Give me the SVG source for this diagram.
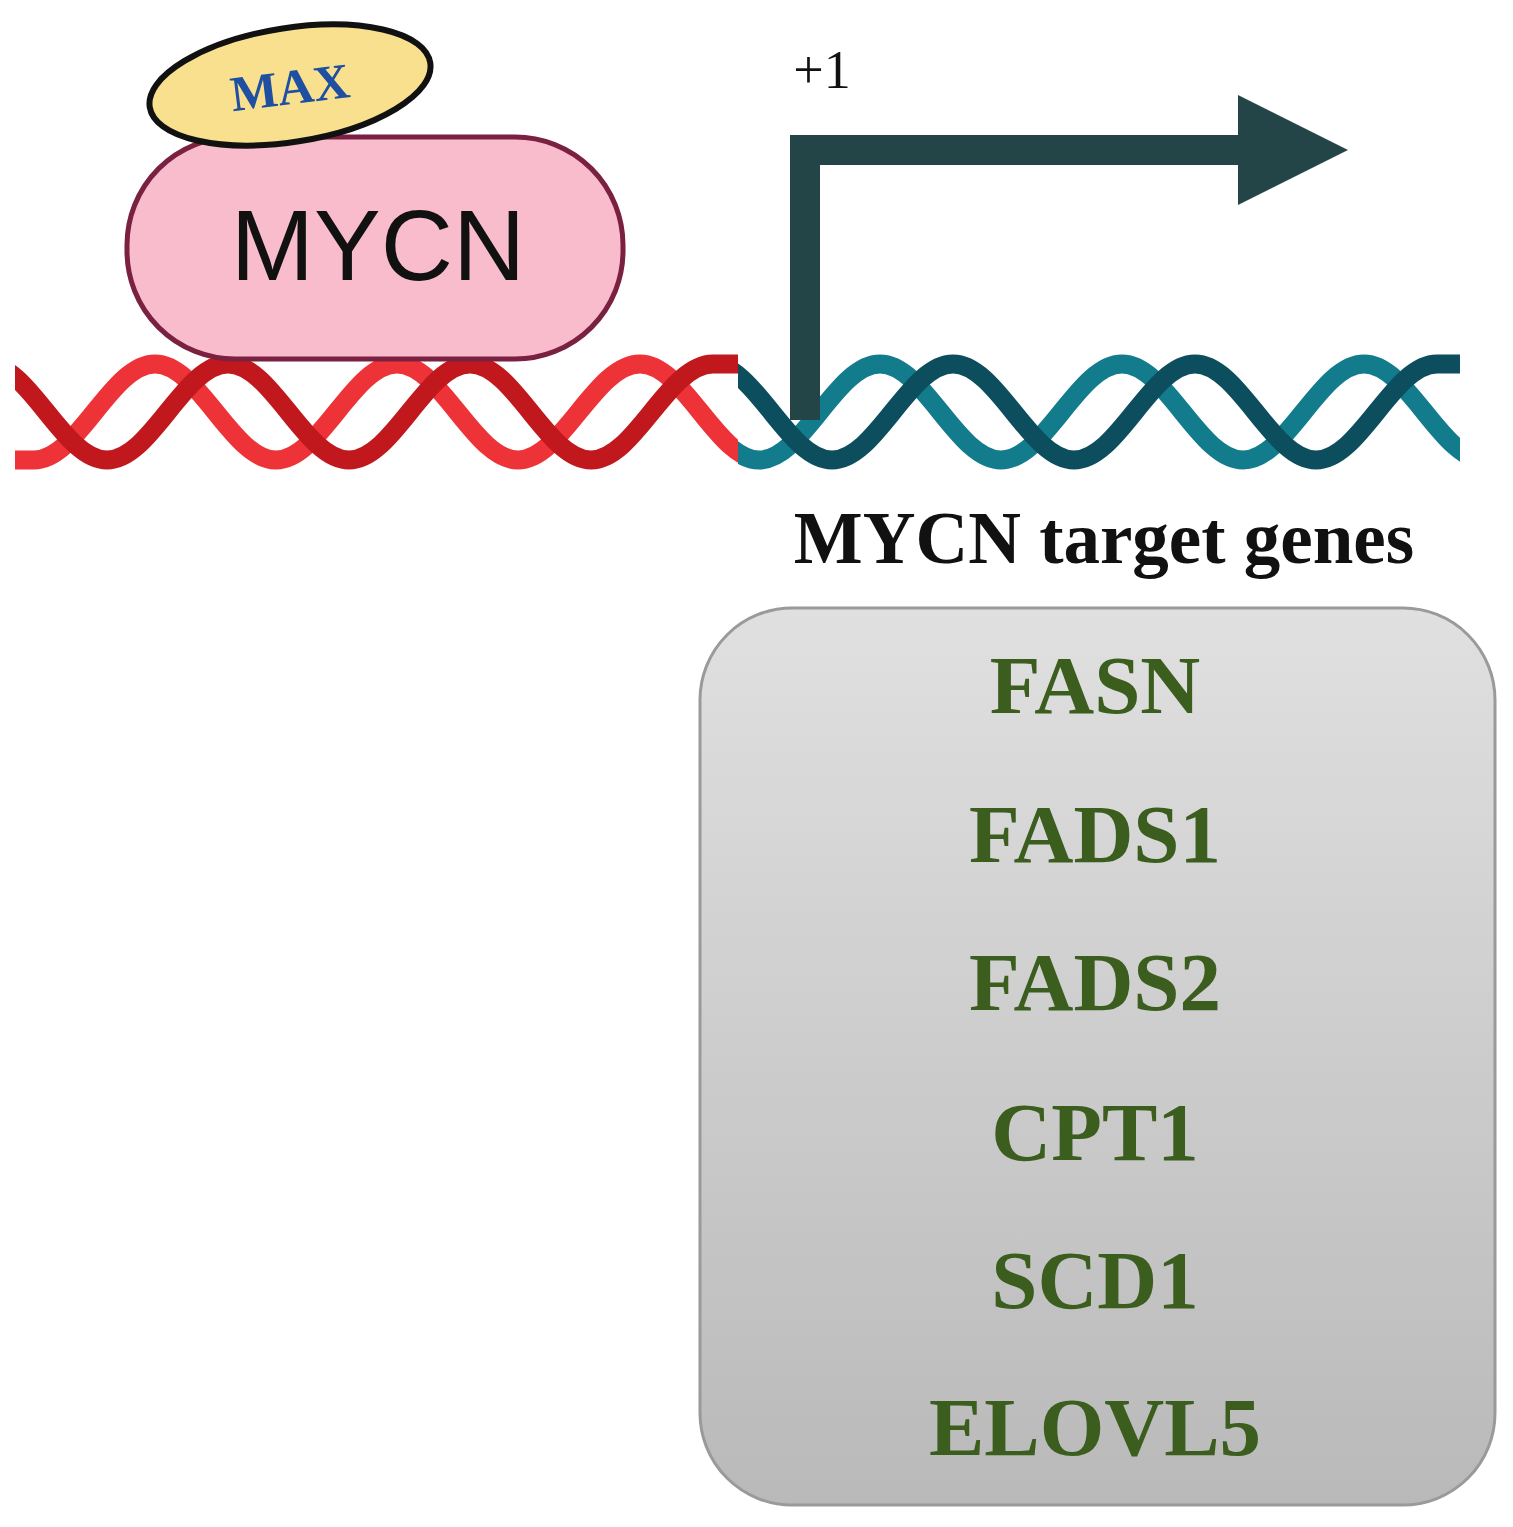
<svg xmlns="http://www.w3.org/2000/svg" width="1513" height="1527" viewBox="0 0 1513 1527">
<style>
.s{fill:none;stroke-width:19;stroke-linecap:butt}
.g{font-family:"Liberation Serif",serif;font-weight:bold;font-size:83px;fill:#3b5e1e;text-anchor:middle}
</style>
<defs>
<clipPath id="cr"><rect x="15" y="330" width="723" height="160"/></clipPath>
<clipPath id="ct"><rect x="738" y="330" width="722" height="160"/></clipPath>
<linearGradient id="gb" x1="0" y1="0" x2="0" y2="1"><stop offset="0" stop-color="#e0e0e0"/><stop offset="1" stop-color="#b9b9b9"/></linearGradient>
</defs>
<rect width="1513" height="1527" fill="#fff"/>
<g id="dna">
<g clip-path="url(#cr)">
<path class="s" stroke="#ee3338" d="M0,460 L34,460 C78,460 111,364 155,364 C199,364 232,460 276,460 C320,460 353,364 397,364 C441,364 474,460 518,460 C562,460 595,364 640,364 C684,364 717,460 761,460"/>
<path class="s" stroke="#c0181c" d="M-14,364 C30,364 63,460 107,460 C151,460 184,364 228,364 C272,364 305,460 349,460 C393,460 426,364 470,364 C514,364 547,460 591,460 C635,460 668,364 713,364 L760,364"/>
</g>
<g clip-path="url(#ct)">
<path class="s" stroke="#127b8c" d="M638,364 C682,364 715,460 759,460 C803,460 836,364 880,364 C924,364 957,460 1001,460 C1045,460 1078,364 1122,364 C1166,364 1199,460 1243,460 C1287,460 1320,364 1364,364 C1408,364 1441,460 1485,460"/>
<path class="s" stroke="#0d4e5e" d="M711,364 C755,364 788,460 832,460 C876,460 909,364 953,364 C997,364 1030,460 1074,460 C1118,460 1151,364 1195,364 C1239,364 1272,460 1316,460 C1360,460 1393,364 1437,364 L1470,364"/>
</g>
</g>
<g id="mycn">
<rect x="127" y="137" width="496" height="222" rx="108" fill="#f8bccc" stroke="#7a2040" stroke-width="5"/>
<text x="378" y="280" font-family="Liberation Sans,Arial,sans-serif" font-size="100" text-anchor="middle" fill="#111">MYCN</text>
</g>
<g id="max">
<ellipse cx="290" cy="85" rx="142" ry="57" transform="rotate(-9 290 85)" fill="#f8e08e" stroke="#111" stroke-width="6"/>
<text x="292" y="104" transform="rotate(-7 292 104)" font-family="Liberation Serif,serif" font-weight="bold" font-size="50" text-anchor="middle" fill="#1f4fa0">MAX</text>
</g>
<g id="connectors">
<path d="M805,420 V150 H1245" fill="none" stroke="#234548" stroke-width="30"/>
<polygon points="1238,95 1348,150 1238,205" fill="#234548"/>
</g>
<text x="822" y="88" font-family="Liberation Serif,serif" font-size="54" text-anchor="middle" fill="#111">+1</text>
<text x="1104" y="563" font-family="Liberation Serif,serif" font-weight="bold" font-size="73" text-anchor="middle" fill="#111">MYCN target genes</text>
<g id="genes">
<rect x="700" y="608" width="795" height="897" rx="92" fill="url(#gb)" stroke="#9a9a9a" stroke-width="3"/>
<text class="g" x="1095" y="713">FASN</text>
<text class="g" x="1095" y="862">FADS1</text>
<text class="g" x="1095" y="1010">FADS2</text>
<text class="g" x="1095" y="1160">CPT1</text>
<text class="g" x="1095" y="1308">SCD1</text>
<text class="g" x="1095" y="1455">ELOVL5</text>
</g>
</svg>
